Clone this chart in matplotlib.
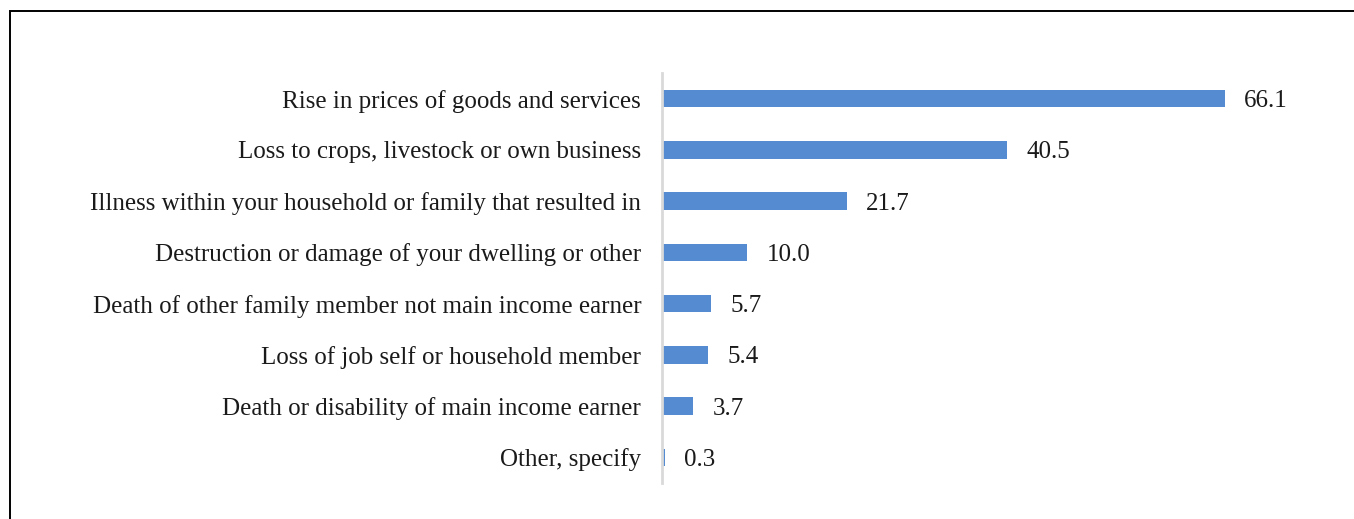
import matplotlib
matplotlib.use("Agg")
import matplotlib.pyplot as plt
from matplotlib.patches import Rectangle

categories = [
    "Rise in prices of goods and services",
    "Loss to crops, livestock or own business",
    "Illness within your household or family that resulted in",
    "Destruction or damage of your dwelling or other",
    "Death of other family member not main income earner",
    "Loss of job self or household member",
    "Death or disability of main income earner",
    "Other, specify",
]
values = [66.1, 40.5, 21.7, 10.0, 5.7, 5.4, 3.7, 0.3]
value_labels = ["66.1", "40.5", "21.7", "10.0", "5.7", "5.4", "3.7", "0.3"]

W, H = 1354, 519
fig = plt.figure(figsize=(W / 100, H / 100), dpi=100)

# outer frame (extends beyond the right and bottom of the image)
fig.patches.append(Rectangle((10 / W, -0.1), 1.2, (H - 11) / H + 0.1,
                             transform=fig.transFigure, fill=False,
                             edgecolor="black", linewidth=1.4))

left, right = 662 / W, 1343 / W
bottom, top = 1 - 483 / H, 1 - 73 / H
ax = fig.add_axes([left, bottom, right - left, top - bottom])

font = "Liberation Serif"
fs = 18
ypos = list(range(len(categories)))
ax.barh(ypos, values, height=0.34, color="#558BD0")
ax.set_ylim(len(categories) - 0.5, -0.5)
ax.set_xlim(0, 80)

for y, v, lab in zip(ypos, values, value_labels):
    ax.text(v + 2.3, y, lab, va="center_baseline", ha="left", fontsize=fs,
            family=font, color="#1a1a1a")

ax.set_yticks(ypos)
ax.set_yticklabels(categories, fontsize=fs, family=font, color="#1a1a1a",
                   va="center_baseline")
ax.tick_params(axis="y", length=0, pad=15)
ax.set_xticks([])
for s in ["top", "right", "bottom"]:
    ax.spines[s].set_visible(False)
ax.spines["left"].set_color("#D9D9D9")
ax.spines["left"].set_linewidth(2)

fig.savefig("out.png", dpi=100)
